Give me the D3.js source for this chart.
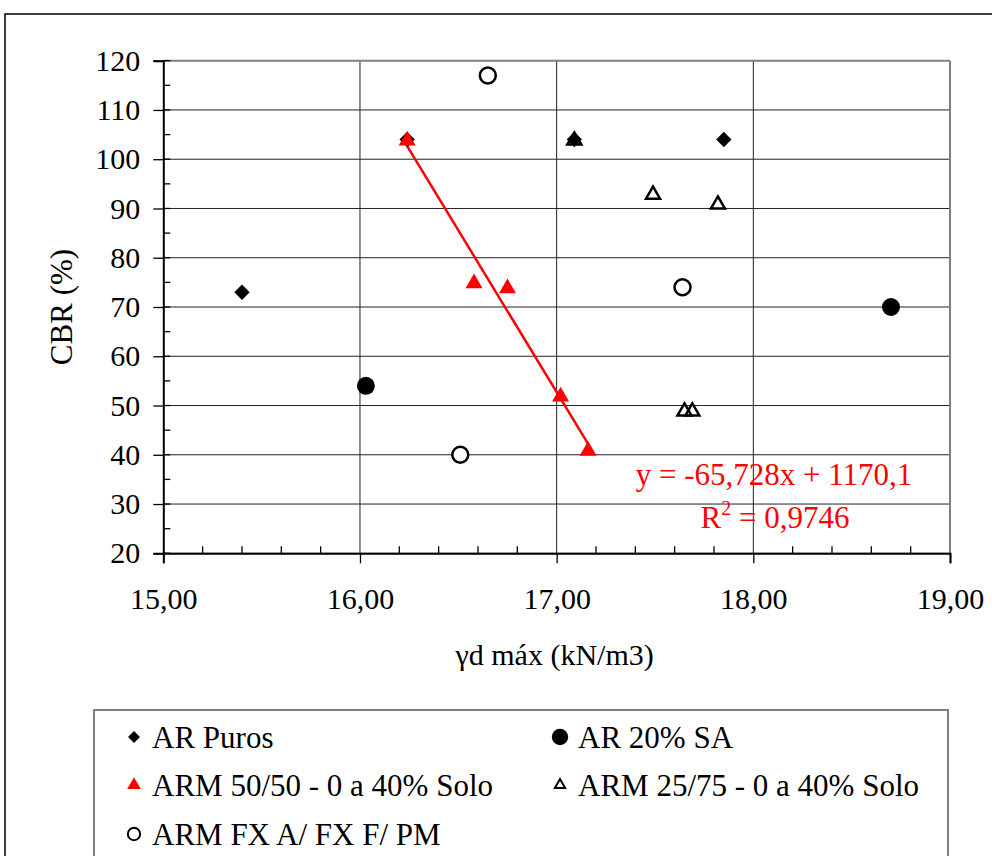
<!DOCTYPE html>
<html><head><meta charset="utf-8">
<script src="https://cdn.jsdelivr.net/npm/d3@7"></script>
<style>
body{margin:0;background:#fff}
svg{display:block}
svg text{font-family:"Liberation Serif","Tinos","Times New Roman","DejaVu Serif",serif !important;fill:#000}
</style>
</head><body>
<svg id="c" width="992" height="856"></svg>
<script>
// ---- data ----
const xTickValues = [15, 16, 17, 18, 19];
const xTickLabels = ["15,00", "16,00", "17,00", "18,00", "19,00"];
const yTickValues = [20, 30, 40, 50, 60, 70, 80, 90, 100, 110, 120];
const yTickLabels = ["20", "30", "40", "50", "60", "70", "80", "90", "100", "110", "120"];

const seriesNames = ["AR Puros", "AR 20% SA", "ARM 50/50 - 0 a 40% Solo", "ARM 25/75 - 0 a 40% Solo", "ARM FX A/ FX F/ PM"];

const arPurosX = [15.40, 16.24, 17.09, 17.85];
const arPurosY = [73, 104, 104, 104];

const ar20SAX = [16.03, 18.70];
const ar20SAY = [54, 70];

const arm5050X = [16.24, 16.58, 16.75, 17.02, 17.16];
const arm5050Y = [104, 75, 74, 52, 41];

const arm2575X = [17.09, 17.49, 17.82, 17.65, 17.69];
const arm2575Y = [104, 93, 91, 49, 49];

const armFXX = [16.65, 16.51, 17.64];
const armFXY = [117, 40, 74];

const trendSlope = -65.728;
const trendIntercept = 1170.1;
const trendLabel1 = "y = -65,728x + 1170,1";
const trendLabel2 = "0,9746";

const xTitle = "γd máx (kN/m3)";
const yTitle = "CBR (%)";

// ---- layout ----
const svg = d3.select("#c");
const L = 163.3, R = 950, T = 60.7, B = 553.3;
const x = d3.scaleLinear().domain([15, 19]).range([L, R]);
const y = d3.scaleLinear().domain([20, 120]).range([B, T]);

// outer chart border
svg.append("rect").attr("x", 5).attr("y", 14).attr("width", 1000).attr("height", 900)
  .attr("fill", "none").attr("stroke", "#000").attr("stroke-width", 1.5);

// horizontal gridlines
svg.append("g").selectAll("line").data(yTickValues.filter(v => v !== 120)).join("line")
  .attr("x1", L).attr("x2", R).attr("y1", d => y(d)).attr("y2", d => y(d))
  .attr("stroke", "#222").attr("stroke-width", 1);
// vertical gridlines
svg.append("g").selectAll("line").data(xTickValues.filter(v => v !== 15 && v !== 19)).join("line")
  .attr("x1", d => x(d)).attr("x2", d => x(d)).attr("y1", T).attr("y2", B)
  .attr("stroke", "#222").attr("stroke-width", 1);

// plot area border (top and right)
svg.append("line").attr("x1", L).attr("x2", R).attr("y1", T).attr("y2", T)
  .attr("stroke", "#808080").attr("stroke-width", 2);
svg.append("line").attr("x1", R).attr("x2", R).attr("y1", T).attr("y2", B)
  .attr("stroke", "#808080").attr("stroke-width", 2);

// minor ticks
const yMinor = d3.range(25, 120, 10);
svg.append("g").selectAll("line").data(yMinor).join("line")
  .attr("x1", L).attr("x2", L + 7).attr("y1", d => y(d)).attr("y2", d => y(d))
  .attr("stroke", "#000").attr("stroke-width", 1.3);
const xMinor = d3.range(15.2, 19, 0.2).filter(v => Math.abs(v - Math.round(v)) > 0.01);
svg.append("g").selectAll("line").data(xMinor).join("line")
  .attr("x1", d => x(d)).attr("x2", d => x(d)).attr("y1", B).attr("y2", B - 7)
  .attr("stroke", "#000").attr("stroke-width", 1.3);
// inner part of y major ticks
svg.append("g").selectAll("line").data(yTickValues).join("line")
  .attr("x1", L).attr("x2", L + 7).attr("y1", d => y(d)).attr("y2", d => y(d))
  .attr("stroke", "#000").attr("stroke-width", 1.3);

// axes
const yAxis = d3.axisLeft(y).tickValues(yTickValues).tickSize(10).tickPadding(13)
  .tickFormat((d, i) => yTickLabels[i]);
const gy = svg.append("g").attr("transform", `translate(${L},0)`).call(yAxis);
gy.attr("font-family", null);
gy.select(".domain").attr("stroke", "#000").attr("stroke-width", 2);
gy.selectAll(".tick line").attr("stroke", "#000").attr("stroke-width", 1.3);
gy.selectAll(".tick text").attr("font-size", 30).attr("fill", "#000");

const xAxis = d3.axisBottom(x).tickValues(xTickValues).tickSize(10).tickPadding(24)
  .tickFormat((d, i) => xTickLabels[i]);
const gx = svg.append("g").attr("transform", `translate(0,${B})`).call(xAxis);
gx.attr("font-family", null);
gx.select(".domain").attr("stroke", "#000").attr("stroke-width", 2);
gx.selectAll(".tick line").attr("stroke", "#000").attr("stroke-width", 1.3);
gx.selectAll(".tick text").attr("font-size", 30).attr("fill", "#000");

// axis titles
svg.append("text").attr("x", (L + R) / 2 - 2).attr("y", 665).attr("text-anchor", "middle")
  .attr("font-size", 30).text(xTitle);
svg.append("text").attr("transform", `translate(72,${(T + B) / 2}) rotate(-90)`)
  .attr("text-anchor", "middle").attr("font-size", 31).text(yTitle);

// markers
const sym = (type, size) => d3.symbol().type(type).size(size)();
function drawSeries(xs, ys, type, size, fill, stroke, sw, dy) {
  svg.append("g").selectAll("path").data(xs.map((v, i) => [v, ys[i]])).join("path")
    .attr("transform", d => `translate(${x(d[0])},${y(d[1]) + (dy || 0)})`)
    .attr("d", sym(type, size))
    .attr("fill", fill).attr("stroke", stroke).attr("stroke-width", sw);
}

// regression line
const tx0 = d3.min(arm5050X), tx1 = d3.max(arm5050X);
svg.append("line")
  .attr("x1", x(tx0)).attr("y1", y(trendSlope * tx0 + trendIntercept))
  .attr("x2", x(tx1)).attr("y2", y(trendSlope * tx1 + trendIntercept))
  .attr("stroke", "#ff0000").attr("stroke-width", 2.5);

drawSeries(arPurosX, arPurosY, d3.symbolDiamond2, 150, "#000", "none", 0);
drawSeries(ar20SAX, ar20SAY, d3.symbolCircle, 255, "#000", "none", 0);
drawSeries(arm5050X, arm5050Y, d3.symbolTriangle, 125, "#ff0000", "none", 0, 1);
drawSeries(arm2575X, arm2575Y, d3.symbolTriangle, 85, "none", "#000", 2.5, 1);
drawSeries(armFXX, armFXY, d3.symbolCircle, 200, "#fff", "#000", 2.5);

// trend equation
svg.append("text").attr("x", 774).attr("y", 485).attr("text-anchor", "middle")
  .attr("font-size", 31).style("fill", "#ff0000").text(trendLabel1);
const t2 = svg.append("text").attr("x", 775).attr("y", 528).attr("text-anchor", "middle")
  .attr("font-size", 31).style("fill", "#ff0000");
t2.append("tspan").style("fill", "#ff0000").text("R");
t2.append("tspan").style("fill", "#ff0000").attr("dy", -13).attr("font-size", 20).text("2");
t2.append("tspan").style("fill", "#ff0000").attr("dy", 13).text(" = " + trendLabel2);

// legend
svg.append("rect").attr("x", 94).attr("y", 710).attr("width", 854).attr("height", 200)
  .attr("fill", "#fff").attr("stroke", "#808080").attr("stroke-width", 2);
const legendItems = [
  {name: seriesNames[0], type: d3.symbolDiamond2, size: 90, fill: "#000", stroke: "none", sw: 0, col: 0, row: 0},
  {name: seriesNames[1], type: d3.symbolCircle, size: 210, fill: "#000", stroke: "none", sw: 0, col: 1, row: 0},
  {name: seriesNames[2], type: d3.symbolTriangle, size: 80, fill: "#ff0000", stroke: "none", sw: 0, col: 0, row: 1},
  {name: seriesNames[3], type: d3.symbolTriangle, size: 45, fill: "none", stroke: "#000", sw: 2, col: 1, row: 1},
  {name: seriesNames[4], type: d3.symbolCircle, size: 120, fill: "#fff", stroke: "#000", sw: 2, col: 0, row: 2}
];
const colX = [134, 560], rowY = [737, 785, 834];
const lg = svg.append("g").selectAll("g").data(legendItems).join("g")
  .attr("transform", d => `translate(${colX[d.col]},${rowY[d.row]})`);
lg.append("path").attr("d", d => sym(d.type, d.size))
  .attr("fill", d => d.fill).attr("stroke", d => d.stroke).attr("stroke-width", d => d.sw);
lg.append("text").attr("x", 18).attr("y", 11).attr("font-size", 31).text(d => d.name);
</script>
</body></html>
